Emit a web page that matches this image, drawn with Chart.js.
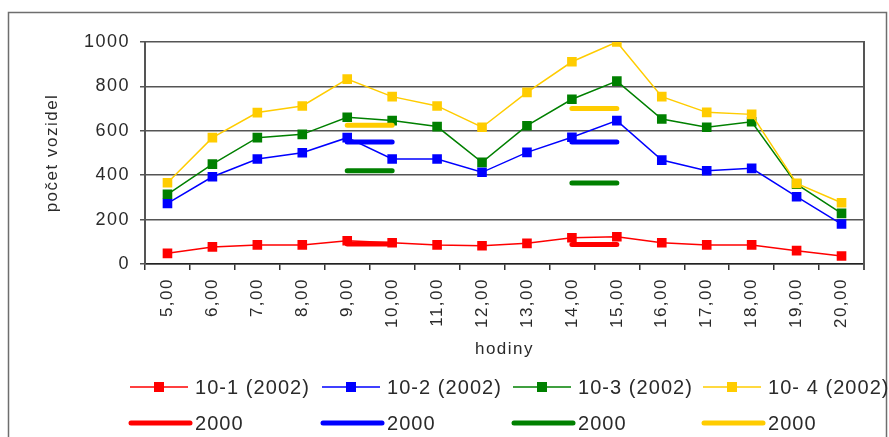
<!DOCTYPE html>
<html>
<head>
<meta charset="utf-8">
<script src="https://cdn.jsdelivr.net/npm/chart.js@4/dist/chart.umd.min.js"></script>
<style>
  html, body { margin: 0; padding: 0; background: #ffffff; }
  #wrap { width: 889px; height: 437px; position: relative; }
</style>
</head>
<body>
<div id="wrap"><canvas id="c" width="889" height="437"></canvas></div>
<script>
// hours of the day (category axis)
const hours = ['5,00', '6,00', '7,00', '8,00', '9,00', '10,00', '11,00', '12,00',
               '13,00', '14,00', '15,00', '16,00', '17,00', '18,00', '19,00', '20,00'];

// vehicle counts per hour, 2002 surveys
const s10_1 = [48, 77, 86, 86, 105, 96, 86, 82, 93, 118, 123, 96, 86, 86, 60, 36];
const s10_2 = [273, 393, 473, 501, 569, 473, 473, 413, 503, 571, 646, 468, 420, 431, 303, 180];
const s10_3 = [314, 450, 569, 584, 661, 646, 619, 458, 623, 742, 824, 653, 616, 641, 360, 228];
const s10_4 = [366, 569, 682, 712, 833, 754, 712, 616, 773, 911, 1000, 754, 683, 674, 363, 276];

// year 2000 reference levels (peak hours only)
const r10_1 = [null, null, null, null, 90, 90, null, null, null, 88, 88, null, null, null, null, null];
const r10_2 = [null, null, null, null, 550, 550, null, null, null, 550, 550, null, null, null, null, null];
const r10_3 = [null, null, null, null, 420, 420, null, null, null, 365, 365, null, null, null, null, null];
const r10_4 = [null, null, null, null, 625, 625, null, null, null, 700, 700, null, null, null, null, null];

// y-axis tick values
const yTicks = [0, 200, 400, 600, 800, 1000];

const seriesLabels = ['10-1 (2002)', '10-2 (2002)', '10-3 (2002)', '10- 4 (2002)'];
const refLabels = ['2000', '2000', '2000', '2000'];
const colors = ['#ff0000', '#0000ff', '#008000', '#ffcc00'];

const FONT = '"Liberation Sans", Arial, sans-serif';
const TEXT = '#2a2a2a';

const surveyData = [s10_1, s10_2, s10_3, s10_4];
const refData = [r10_1, r10_2, r10_3, r10_4];

const datasets = [];
surveyData.forEach((d, i) => {
  datasets.push({
    label: seriesLabels[i],
    data: d,
    borderColor: colors[i],
    backgroundColor: colors[i],
    borderWidth: 1.5,
    pointStyle: 'rect',
    pointRadius: 6.8,
    pointBorderWidth: 0,
    tension: 0,
    order: 20 - i
  });
});
refData.forEach((d, i) => {
  datasets.push({
    label: refLabels[i],
    data: d,
    borderColor: colors[i],
    backgroundColor: colors[i],
    borderWidth: 5,
    borderCapStyle: 'round',
    pointRadius: 0,
    spanGaps: false,
    order: 10 - i
  });
});

// outer frame, right edge of the plot and text spacing for the axes
const framePlugin = {
  id: 'frame',
  beforeDraw(chart) {
    const ctx = chart.ctx;
    ctx.letterSpacing = '1.5px';
    ctx.save();
    ctx.strokeStyle = '#6e6e6e';
    ctx.lineWidth = 1.5;
    ctx.strokeRect(8.5, 12.5, 878, 440);
    ctx.restore();
  },
  afterDatasetsDraw(chart) {
    const { ctx, chartArea } = chart;
    ctx.save();
    ctx.strokeStyle = '#555555';
    ctx.lineWidth = 2;
    ctx.beginPath();
    ctx.moveTo(chartArea.right, chartArea.top - 1);
    ctx.lineTo(chartArea.right, chartArea.bottom + 6);
    ctx.stroke();
    ctx.restore();
  }
};

// two-row legend: survey series on top, 2000 levels below
const legendPlugin = {
  id: 'gridLegend',
  afterDraw(chart) {
    const ctx = chart.ctx;
    const cols = [130, 322, 513, 703];
    const rows = [387, 423];
    ctx.save();
    ctx.font = '20px ' + FONT;
    ctx.letterSpacing = '1.05px';
    ctx.textBaseline = 'middle';
    ctx.textAlign = 'left';
    chart.data.datasets.forEach((ds, i) => {
      const x0 = cols[i % 4];
      const y = rows[Math.floor(i / 4)];
      ctx.strokeStyle = ds.borderColor;
      if (i < 4) {
        ctx.lineWidth = 1.5;
        ctx.lineCap = 'butt';
        ctx.beginPath();
        ctx.moveTo(x0, y);
        ctx.lineTo(x0 + 58, y);
        ctx.stroke();
        ctx.fillStyle = ds.backgroundColor;
        ctx.fillRect(x0 + 29 - 5, y - 5, 10, 10);
      } else {
        ctx.lineWidth = 5;
        ctx.lineCap = 'round';
        ctx.beginPath();
        ctx.moveTo(x0 + 1, y);
        ctx.lineTo(x0 + 60, y);
        ctx.stroke();
      }
      ctx.fillStyle = TEXT;
      ctx.fillText(ds.label, x0 + 65, y + 1);
    });
    ctx.restore();
  }
};

new Chart(document.getElementById('c'), {
  type: 'line',
  data: { labels: hours, datasets: datasets },
  options: {
    responsive: false,
    animation: false,
    devicePixelRatio: 1,
    layout: { padding: { left: 0, right: 25, top: 42, bottom: 73 } },
    plugins: {
      legend: { display: false },
      tooltip: { enabled: false },
      title: { display: false }
    },
    scales: {
      x: {
        type: 'category',
        offset: true,
        grid: {
          display: true,
          offset: true,
          drawOnChartArea: false,
          drawTicks: true,
          tickLength: 6,
          color: '#333333',
          lineWidth: 1.5
        },
        border: { display: true, color: '#222222', width: 1.5 },
        ticks: {
          autoSkip: false,
          minRotation: 90,
          maxRotation: 90,
          padding: 8,
          color: TEXT,
          font: { family: FONT, size: 17 }
        },
        title: {
          display: true,
          text: 'hodiny',
          color: TEXT,
          padding: { top: 0, bottom: 4 },
          font: { family: FONT, size: 17 }
        },
        afterFit(scale) { scale.height = 100; }
      },
      y: {
        min: yTicks[0],
        max: yTicks[yTicks.length - 1],
        afterBuildTicks(scale) {
          scale.ticks = yTicks.map(v => ({ value: v }));
        },
        ticks: {
          padding: 10,
          color: TEXT,
          font: { family: FONT, size: 18 },
          callback: v => String(v)
        },
        grid: {
          color: '#555555',
          lineWidth: 1.5,
          tickLength: 5,
          drawTicks: true
        },
        border: { display: true, color: '#555555', width: 2 },
        title: {
          display: true,
          text: 'počet vozidel',
          color: TEXT,
          padding: { top: 42, bottom: 0 },
          font: { family: FONT, size: 17 }
        },
        afterFit(scale) { scale.width = 145; }
      }
    }
  },
  plugins: [framePlugin, legendPlugin]
});
</script>
</body>
</html>
